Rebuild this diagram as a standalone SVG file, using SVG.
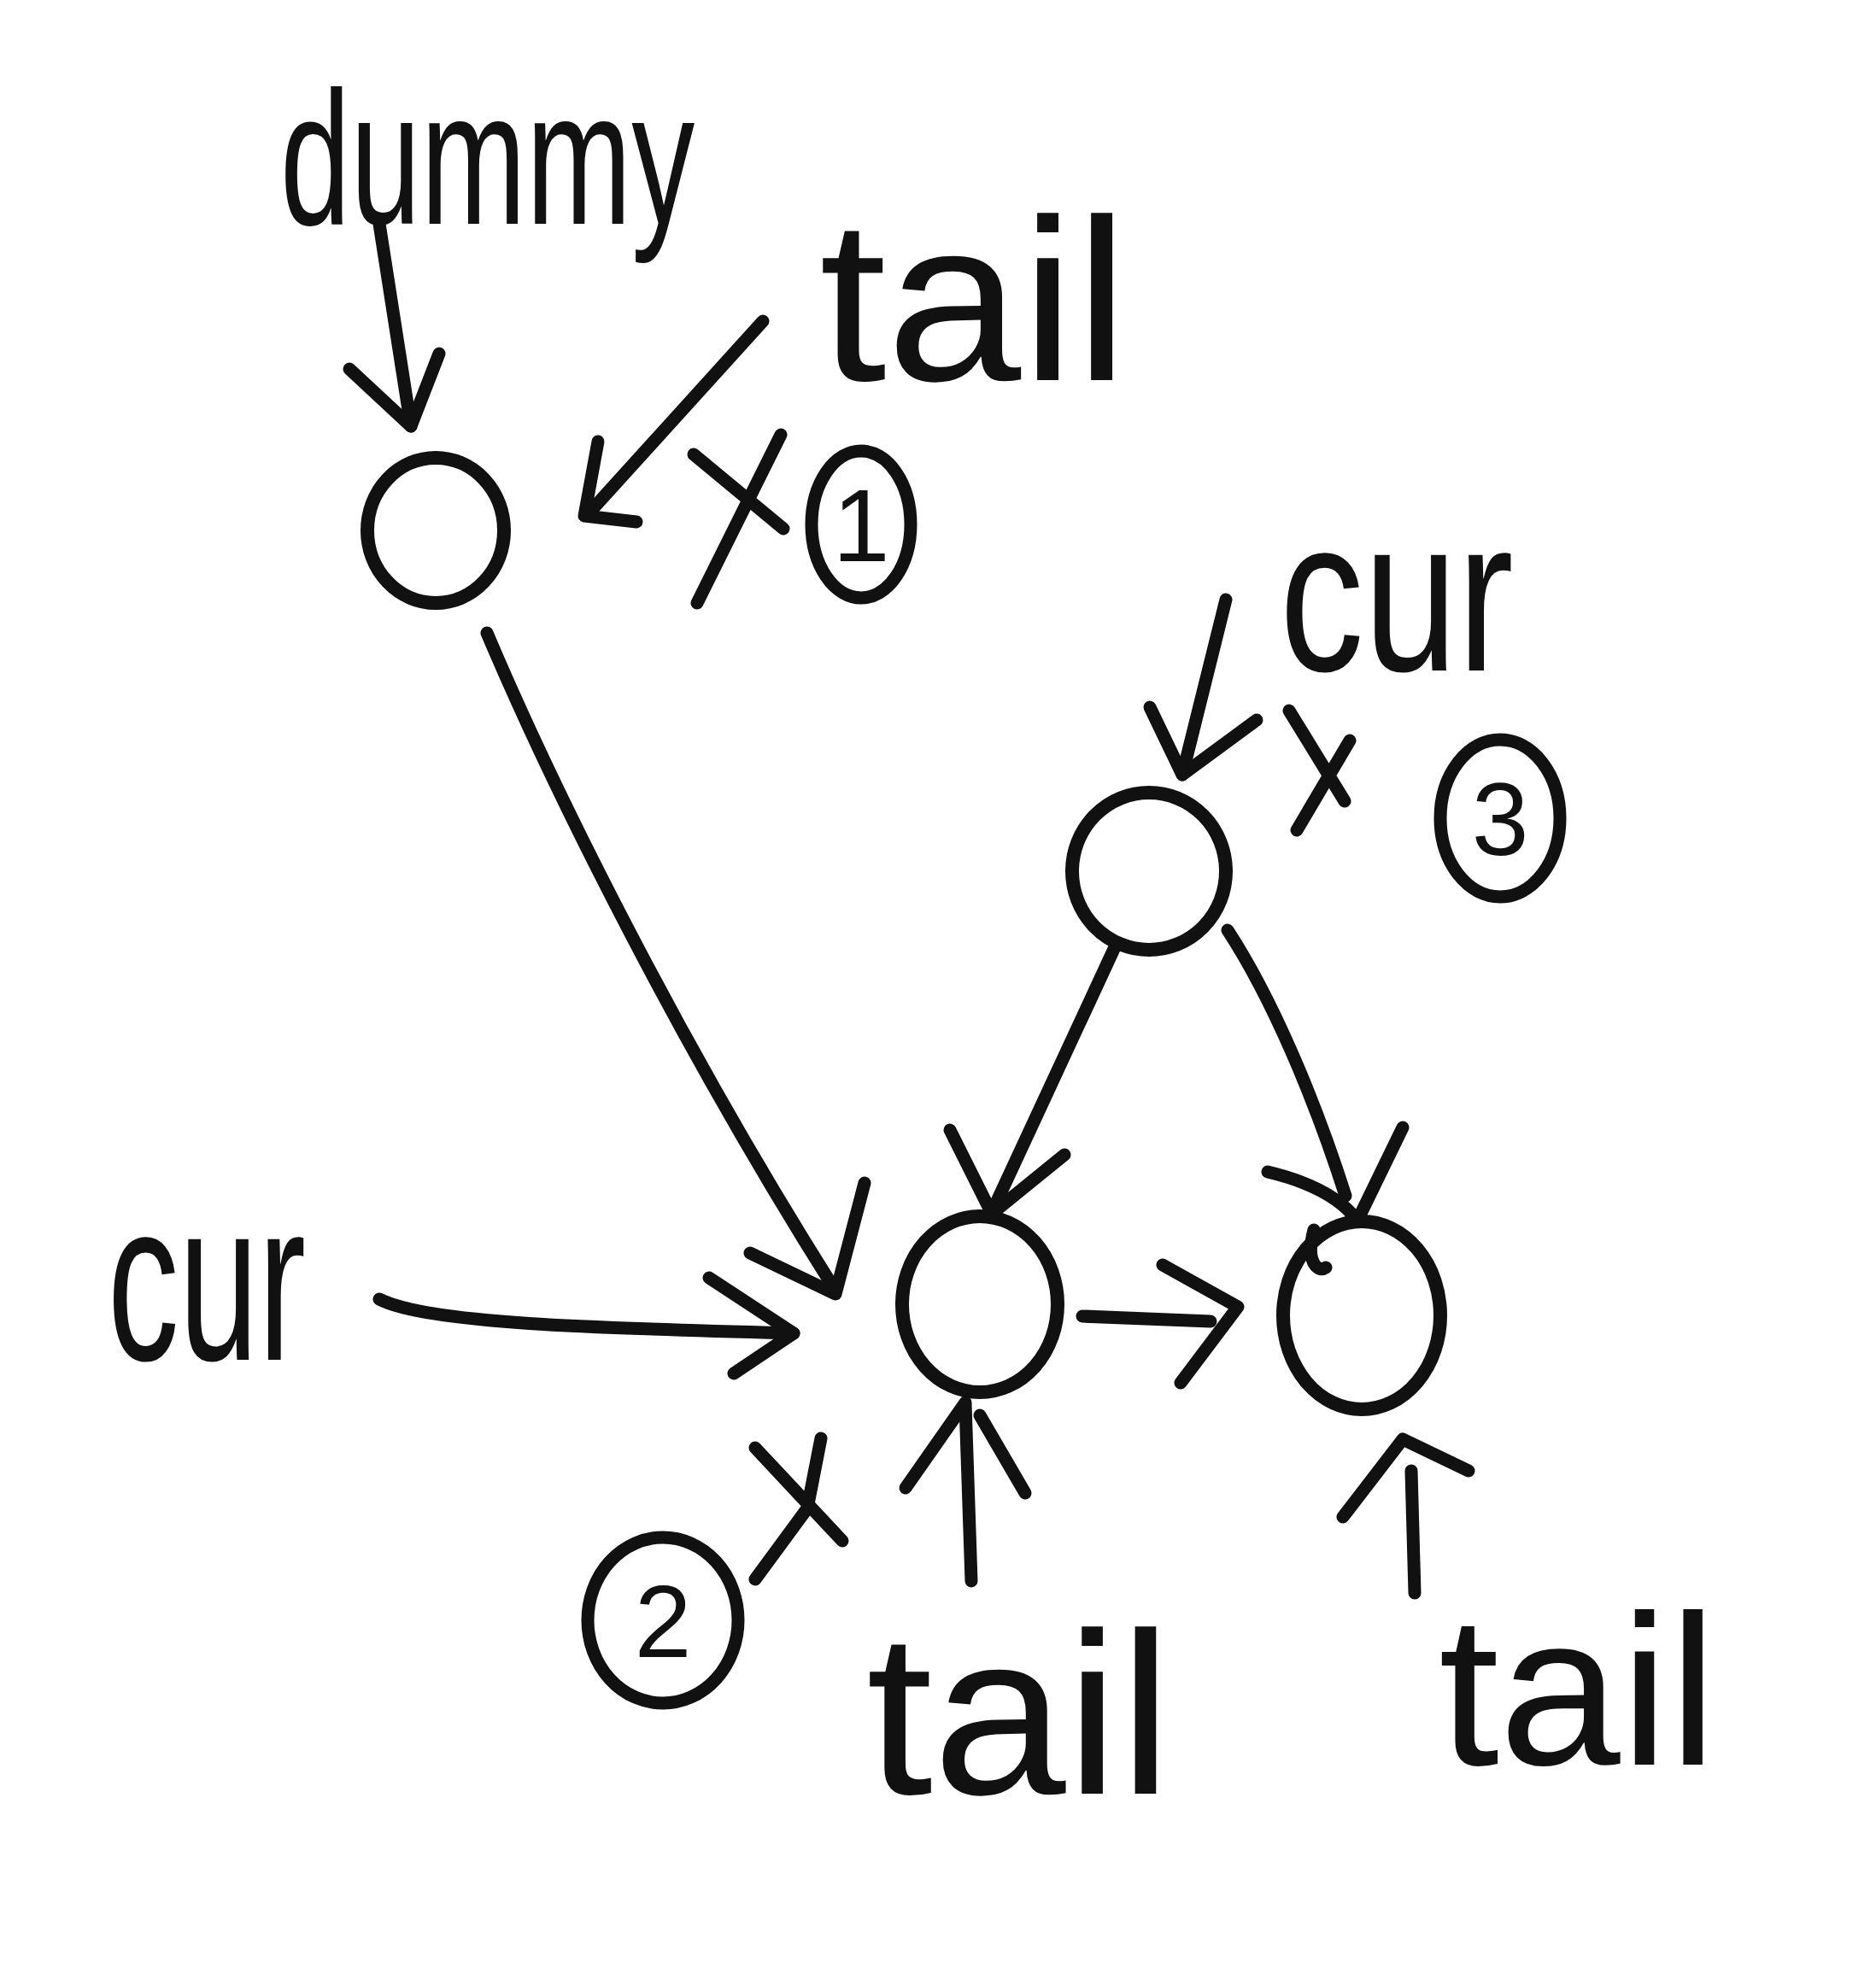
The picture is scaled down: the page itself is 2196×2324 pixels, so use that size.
<svg xmlns="http://www.w3.org/2000/svg" width="2196" height="2324" viewBox="0 0 2196 2324">
<style>
.bg{fill:#ffffff}
.ln{fill:none;stroke:#111;stroke-width:15;stroke-linecap:round;stroke-linejoin:round}
.node{fill:none;stroke:#111;stroke-width:16}
.num{fill:none;stroke:#111;stroke-width:15}
.lbl{font-family:"Liberation Sans","DejaVu Sans",sans-serif;fill:#111}
.digit{font-family:"Liberation Sans","DejaVu Sans",sans-serif;fill:#111;font-size:120px;text-anchor:middle}
</style>
<rect class="bg" x="0" y="0" width="2196" height="2324"/>

<g id="label-dummy"><text class="lbl" transform="translate(328,262) scale(1,1.5)" x="0" y="0" font-size="148">dummy</text></g>
<g id="label-tail-top"><text class="lbl" x="959" y="445" font-size="270" textLength="362" lengthAdjust="spacingAndGlyphs">tail</text></g>
<g id="label-cur-top"><text class="lbl" transform="translate(1498,785) scale(1,1.3)" x="0" y="0" font-size="197">cur</text></g>
<g id="label-cur-left"><text class="lbl" transform="translate(126,1592) scale(1,1.6)" x="0" y="0" font-size="167">cur</text></g>
<g id="label-tail-mid"><text class="lbl" x="1014" y="2100" font-size="270" textLength="358" lengthAdjust="spacingAndGlyphs">tail</text></g>
<g id="label-tail-right"><text class="lbl" x="1684" y="2066" font-size="250" textLength="326" lengthAdjust="spacingAndGlyphs">tail</text></g>

<g id="node-dummy"><ellipse class="node" cx="510" cy="621" rx="80" ry="85"/></g>
<g id="node-top"><ellipse class="node" cx="1345" cy="1020" rx="90" ry="92"/></g>
<g id="node-mid"><ellipse class="node" cx="1147" cy="1527" rx="91" ry="103"/></g>
<g id="node-right"><ellipse class="node" cx="1594" cy="1540" rx="92" ry="110"/><path class="ln" d="M1538,1440 Q1530,1470 1540,1482 Q1546,1488 1552,1484"/></g>

<g id="step-1"><path class="ln" d="M914,509 L816,706 M812,532 L917,619"/><ellipse class="num" cx="1008" cy="614" rx="58" ry="86"/><text class="digit" x="1008" y="657">1</text></g>
<g id="step-2"><path class="ln" d="M884,1695 L986,1804 M961,1684 L945,1766 L884,1849"/><ellipse class="num" cx="776" cy="1897" rx="88" ry="97"/><text class="digit" x="776" y="1940">2</text></g>
<g id="step-3"><path class="ln" d="M1509,832 L1574,938 M1580,867 L1518,972"/><ellipse class="num" cx="1756" cy="958" rx="70" ry="92"/><text class="digit" x="1756" y="1001">3</text></g>

<g id="connectors">
<path class="ln" d="M444,262 L481,499"/><polyline class="ln" points="409,432 481,499 514,414"/>
<path class="ln" d="M893,376 L690,600"/><polyline class="ln" points="700,517 684,604 745,611"/>
<path class="ln" d="M570,741 C650,930 800,1230 978,1511"/><polyline class="ln" points="878,1467 978,1515 1012,1385"/>
<path class="ln" d="M444,1521 C500,1550 700,1555 929,1561"/><polyline class="ln" points="830,1496 929,1561 859,1608"/>
<path class="ln" d="M1267,1541 L1417,1547"/><polyline class="ln" points="1361,1481 1449,1530 1382,1619"/>
<path class="ln" d="M1435,702 L1384,907"/><polyline class="ln" points="1346,828 1384,907 1471,843"/>
<path class="ln" d="M1304,1111 L1163,1415"/><polyline class="ln" points="1112,1323 1161,1421 1246,1352"/>
<path class="ln" d="M1437,1089 C1490,1170 1540,1290 1575,1400"/><path class="ln" d="M1484,1372 Q1560,1390 1589,1429 L1642,1320"/>
<path class="ln" d="M1137,1851 L1130,1644"/><path class="ln" d="M1060,1742 L1130,1642 M1147,1657 L1200,1748"/>
<path class="ln" d="M1656,1865 L1652,1722"/><polyline class="ln" points="1572,1776 1642,1685 1719,1722"/>
</g>
</svg>
